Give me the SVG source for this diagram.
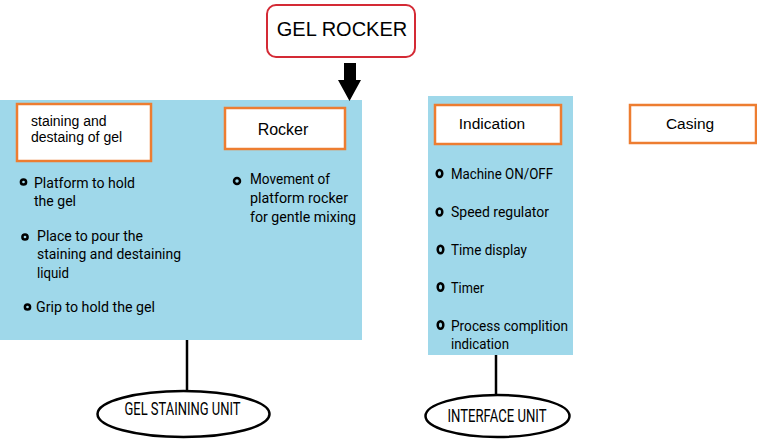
<svg xmlns="http://www.w3.org/2000/svg" width="757" height="439" viewBox="0 0 757 439">
<style>
.panel{fill:#9fd8ea}
.obox{fill:#fff;stroke:#ed7d31;stroke-width:2.5}
.h{font-family:"Liberation Sans",Arial,sans-serif;fill:#000}
.b{font-family:Roboto,"Liberation Sans",sans-serif;font-size:15px;fill:#000}
.dot{fill:none;stroke:#000;stroke-width:2.5}
.lbl{font-family:Roboto,"Liberation Sans",sans-serif;font-size:17.5px;fill:#000}
.conn{stroke:#000;stroke-width:2.5;fill:none}
.ell{fill:#fff;stroke:#000;stroke-width:2.5}
</style>
<rect width="757" height="439" fill="#fff"/>
<g id="gel-rocker">
<rect x="267" y="5" width="148" height="52" rx="9" fill="#fff" stroke="#d42a35" stroke-width="2"/>
<text class="h" x="342" y="36" font-size="20" text-anchor="middle">GEL ROCKER</text>
</g>
<g id="staining-panel">
<rect class="panel" x="0" y="100" width="362" height="240"/>
<rect class="obox" x="17" y="104" width="134" height="57"/>
<text class="h" x="31" y="126" font-size="14">staining and</text>
<text class="h" x="31" y="142" font-size="14">destaing of gel</text>
<rect class="obox" x="225" y="108" width="120" height="41"/>
<text class="h" x="283" y="135" font-size="16" text-anchor="middle">Rocker</text>
<circle class="dot" cx="23.5" cy="182" r="2.6"/>
<text class="b" x="34" y="187.5" textLength="101" lengthAdjust="spacingAndGlyphs">Platform to hold</text>
<text class="b" x="34" y="205.5" textLength="42" lengthAdjust="spacingAndGlyphs">the gel</text>
<circle class="dot" cx="25" cy="237" r="2.6"/>
<text class="b" x="37" y="241" textLength="106" lengthAdjust="spacingAndGlyphs">Place to pour the</text>
<text class="b" x="37" y="259" textLength="144" lengthAdjust="spacingAndGlyphs">staining and destaining</text>
<text class="b" x="37" y="277.5" textLength="32" lengthAdjust="spacingAndGlyphs">liquid</text>
<circle class="dot" cx="27.5" cy="307" r="2.6"/>
<text class="b" x="36" y="312" textLength="119" lengthAdjust="spacingAndGlyphs">Grip to hold the gel</text>
<circle class="dot" cx="237" cy="181" r="3"/>
<text class="b" x="250" y="184" textLength="80" lengthAdjust="spacingAndGlyphs">Movement of</text>
<text class="b" x="250" y="203" textLength="98" lengthAdjust="spacingAndGlyphs">platform rocker</text>
<text class="b" x="250" y="222" textLength="106" lengthAdjust="spacingAndGlyphs">for gentle mixing</text>
</g>
<g id="interface-panel">
<rect class="panel" x="428" y="96" width="145" height="259"/>
<rect class="obox" x="435" y="105" width="126" height="39"/>
<text class="h" x="492" y="129" font-size="15.5" text-anchor="middle">Indication</text>
<ellipse class="dot" cx="439.5" cy="173.5" rx="2.8" ry="3.6"/>
<text class="b" x="451" y="178.5" textLength="102" lengthAdjust="spacingAndGlyphs">Machine ON/OFF</text>
<ellipse class="dot" cx="439.5" cy="212" rx="2.8" ry="3.6"/>
<text class="b" x="451" y="216.5" textLength="98" lengthAdjust="spacingAndGlyphs">Speed regulator</text>
<ellipse class="dot" cx="440.5" cy="249.5" rx="2.8" ry="3.8"/>
<text class="b" x="451" y="255" textLength="76" lengthAdjust="spacingAndGlyphs">Time display</text>
<ellipse class="dot" cx="440.5" cy="287" rx="2.8" ry="3.8"/>
<text class="b" x="451" y="292.5" textLength="33" lengthAdjust="spacingAndGlyphs">Timer</text>
<ellipse class="dot" cx="440.5" cy="325" rx="2.8" ry="3.8"/>
<text class="b" x="451" y="330.5" textLength="117" lengthAdjust="spacingAndGlyphs">Process complition</text>
<text class="b" x="451" y="349" textLength="58" lengthAdjust="spacingAndGlyphs">indication</text>
</g>
<g id="casing">
<rect class="obox" x="630" y="105" width="126" height="38"/>
<text class="h" x="690" y="129" font-size="15.5" text-anchor="middle">Casing</text>
</g>
<g id="connectors">
<path d="M344 63 H356 V80 H361 L349.5 101 L338 80 H344 Z" fill="#000"/>
<line class="conn" x1="187" y1="340" x2="187" y2="391"/>
<line class="conn" x1="496" y1="355" x2="496" y2="395"/>
</g>
<g id="gel-staining-unit">
<ellipse class="ell" cx="183.5" cy="414" rx="86" ry="23"/>
<text class="lbl" x="182.5" y="415" text-anchor="middle" textLength="116" lengthAdjust="spacingAndGlyphs">GEL STAINING UNIT</text>
</g>
<g id="interface-unit">
<ellipse class="ell" cx="497.5" cy="416" rx="72" ry="21"/>
<text class="lbl" x="497" y="422" text-anchor="middle" textLength="99" lengthAdjust="spacingAndGlyphs">INTERFACE UNIT</text>
</g>
</svg>
